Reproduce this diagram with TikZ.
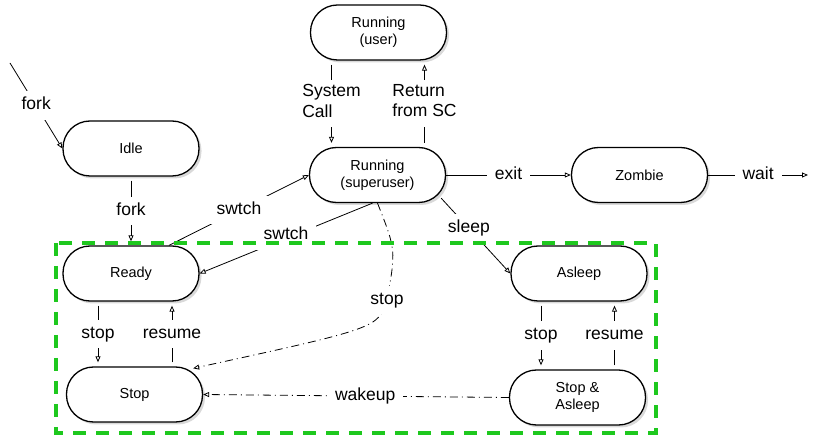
\documentclass[tikz,border=0pt]{standalone}
\usepackage{fontspec}
\setmainfont{Liberation Sans}
\usetikzlibrary{arrows.meta,shadows}
\definecolor{boxgreen}{RGB}{30,200,30}
\begin{document}
\begin{tikzpicture}[x=1pt,y=-1pt,
 state/.style={draw, line width=1.3pt, rounded corners=27pt, minimum width=136pt,
   minimum height=55pt, fill=white, align=center, inner sep=0pt,
   font=\fontsize{14.5}{17}\selectfont,
   drop shadow={shadow xshift=2.5pt, shadow yshift=-2.5pt, opacity=0.3}},
 conn/.style={line width=0.8pt, -{Triangle[open,length=6pt,width=5pt]}},
 vconn/.style={conn, shorten <=4pt, shorten >=4pt},
 lbl/.style={fill=white, font=\fontsize{17.5}{20.5}\selectfont, inner xsep=8pt,
   inner ysep=4pt, align=left, execute at begin node=\strut},
 dd/.style={conn, dash pattern=on 8pt off 4pt on 1pt off 4pt},
 greenbox/.style={draw=boxgreen, line width=4pt, dash pattern=on 13pt off 10pt},
]
\useasboundingbox (0,0) rectangle (814,435);

% states
\node[state] (user)   at (378.5,32.5)  {Running\\(user)};
\node[state] (super)  at (377.5,175)   {Running\\(superuser)};
\node[state] (idle)   at (131,148.5)   {Idle};
\node[state] (zombie) at (639.5,175)   {Zombie};
\node[state] (ready)  at (131,273.5)   {Ready};
\node[state] (stop)   at (134.5,394.5) {Stop};
\node[state] (asleep) at (579,273.5)   {Asleep};
\node[state] (sa)     at (577.5,397.5) {Stop \&\\Asleep};

\coordinate (forkin) at (10,63);
\coordinate (waitout) at (808,175);

% connectors
\draw[conn] (forkin) -- node[lbl]{fork} (idle.west);
\draw[vconn] (idle) -- node[lbl]{fork} (ready);
\draw[vconn] ([xshift=-47pt]user.south) -- node[lbl]{System\\Call}
  ([xshift=-47pt]user.south |- super.north);
\draw[vconn] ([xshift=47pt]super.north) -- node[lbl]{Return\\from SC}
  ([xshift=47pt]super.north |- user.south);
\draw[conn] (super) -- node[lbl]{exit} (zombie);
\draw[conn] (zombie) -- node[lbl]{wait} (waitout);
\draw[conn] ([xshift=38pt]ready.north) -- node[lbl]{swtch} (super.west);
\draw[conn] ([xshift=-5pt]super.south) -- node[lbl,pos=0.5,yshift=3pt]{swtch} (ready.east);
\draw[conn] ([xshift=-5pt,yshift=5pt]super.south east) -- node[lbl,pos=0.4]{sleep} (asleep.west);
\draw[dd] (super.south) .. controls (396,250) .. (387,300) node[lbl]{stop}
  .. controls (378,328) .. ([xshift=-10pt,yshift=-2pt]stop.north east);
\draw[vconn] ([xshift=-38pt]asleep.south) -- node[lbl]{stop}
  ([xshift=-38pt]asleep.south |- sa.north);
\draw[vconn] ([xshift=37pt]sa.north) -- node[lbl]{resume}
  ([xshift=37pt]sa.north |- asleep.south);
\draw[vconn] ([xshift=-33pt]ready.south) -- node[lbl]{stop}
  ([xshift=-33pt]ready.south |- stop.north);
\draw[vconn] ([xshift=41pt]ready.south |- stop.north) -- node[lbl]{resume}
  ([xshift=41pt]ready.south);
\draw[dd] (sa.west) -- node[lbl,pos=0.47]{wakeup} (stop.east);

% group box
\draw[greenbox] (56,243) rectangle (656,433);
\end{tikzpicture}
\end{document}
